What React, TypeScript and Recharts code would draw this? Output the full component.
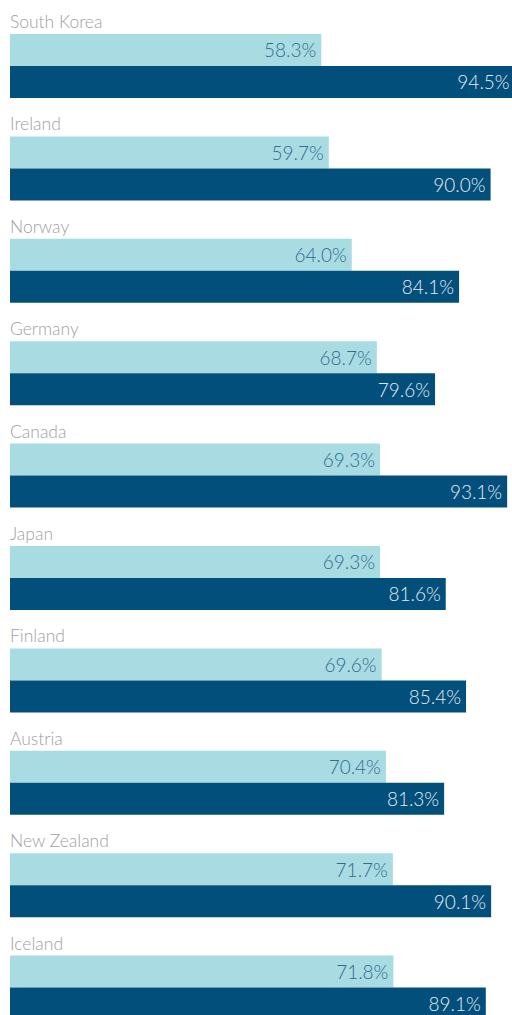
import React from "react";
import { BarChart, Bar, XAxis, YAxis, LabelList } from "recharts";

const countries = [
  "South Korea",
  "Ireland",
  "Norway",
  "Germany",
  "Canada",
  "Japan",
  "Finland",
  "Austria",
  "New Zealand",
  "Iceland",
];
const lightValues = [58.3, 59.7, 64.0, 68.7, 69.3, 69.3, 69.6, 70.4, 71.7, 71.8];
const darkValues = [94.5, 90.0, 84.1, 79.6, 93.1, 81.6, 85.4, 81.3, 90.1, 89.1];

const data = countries.map((c, i) => ({
  country: c,
  light: lightValues[i],
  dark: darkValues[i],
}));

const FONT = "Lato, 'Open Sans', sans-serif";

const fmt = (v: any) => `${Number(v).toFixed(1)}%`;

const CountryLabel = (props: any) => {
  const { x, y, value } = props;
  return (
    <text
      x={Number(x)}
      y={Number(y) - 6}
      fill="#a0a0a0"
      fontSize={17.5}
      fontFamily={FONT}
      fontWeight={300}
      textAnchor="start"
    >
      {value}
    </text>
  );
};

const ValueLabel = (color: string) => (props: any) => {
  const { x, y, width, height, value } = props;
  return (
    <text
      x={Number(x) + Number(width) - 5}
      y={Number(y) + Number(height) / 2}
      fill={color}
      fontSize={19}
      fontFamily={FONT}
      fontWeight={300}
      textAnchor="end"
      dominantBaseline="central"
    >
      {fmt(value)}
    </text>
  );
};

export default function App() {
  return (
    <div
      style={{
        position: "fixed",
        left: 0,
        top: 0,
        width: 512,
        height: 1015,
        overflow: "hidden",
        background: "#fff",
      }}
    >
      <BarChart
        width={544}
        height={1038.3}
        data={data}
        layout="vertical"
        margin={{ top: 14.3, right: 0, bottom: 0, left: 10 }}
        barCategoryGap={19.7}
        barGap={0}
      >
        <XAxis type="number" domain={[0, 100]} hide />
        <YAxis type="category" dataKey="country" hide />
        <Bar dataKey="light" fill="#a8dce2" isAnimationActive={false}>
          <LabelList dataKey="country" content={CountryLabel} />
          <LabelList dataKey="light" content={ValueLabel("#336a90")} />
        </Bar>
        <Bar dataKey="dark" fill="#024f7c" isAnimationActive={false}>
          <LabelList dataKey="dark" content={ValueLabel("#e4ecf1")} />
        </Bar>
      </BarChart>
    </div>
  );
}
